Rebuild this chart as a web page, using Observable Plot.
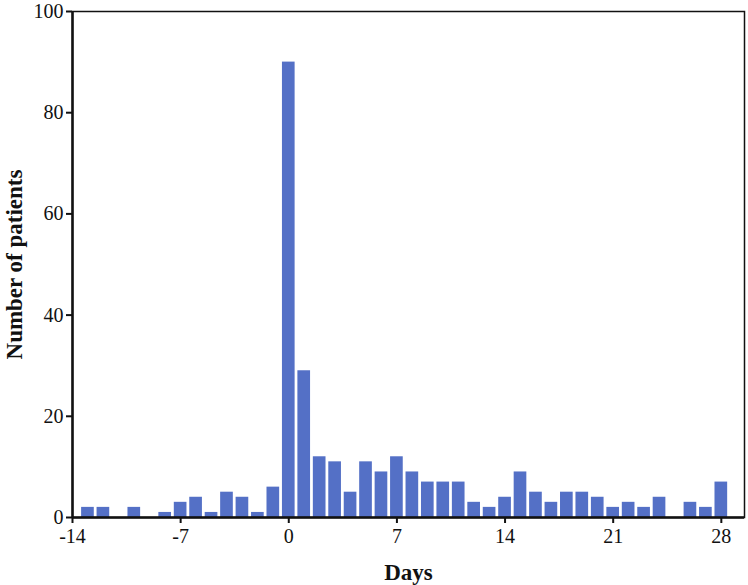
<!DOCTYPE html>
<html>
<head>
<meta charset="utf-8">
<script src="https://cdn.jsdelivr.net/npm/d3@7"></script>
<script src="https://cdn.jsdelivr.net/npm/@observablehq/plot@0.6"></script>
<style>
  html, body { margin: 0; padding: 0; background: #fff; }
  #chart svg { display: block; }
  g[aria-label="x-axis label"], g[aria-label="y-axis label"] { font-weight: bold; font-size: 23px; }
</style>
</head>
<body>
<div id="chart"></div>
<script>
const days = [-13, -12, -10, -8, -7, -6, -5, -4, -3, -2, -1, 0, 1, 2, 3, 4, 5, 6, 7, 8, 9, 10, 11, 12, 13, 14, 15, 16, 17, 18, 19, 20, 21, 22, 23, 24, 26, 27, 28];
const patients = [2, 2, 2, 1, 3, 4, 1, 5, 4, 1, 6, 90, 29, 12, 11, 5, 11, 9, 12, 9, 7, 7, 7, 3, 2, 4, 9, 5, 3, 5, 5, 4, 2, 3, 2, 4, 3, 2, 7];
const xTicks = [-14, -7, 0, 7, 14, 21, 28];
const yTicks = [0, 20, 40, 60, 80, 100];

const data = days.map((d, i) => ({day: d, count: patients[i]}));

const chart = Plot.plot({
  width: 748,
  height: 585,
  marginLeft: 72,
  marginRight: 4,
  marginTop: 11,
  marginBottom: 68,
  style: {fontFamily: "'Liberation Serif', serif", fontSize: "20px", color: "#111", background: "#fff"},
  x: {domain: [-14, 29.5]},
  y: {domain: [0, 100]},
  marks: [
    Plot.rectY(data, {x1: d => d.day - 0.41, x2: d => d.day + 0.41, y: "count", fill: "#5470c6"}),
    Plot.frame({stroke: "#111", strokeWidth: 1.5}),
    Plot.ruleX([-14], {stroke: "#111", strokeWidth: 2.5}),
    Plot.ruleY([0], {stroke: "#111", strokeWidth: 2.5}),
    Plot.axisX({ticks: xTicks, tickSize: 6, tickPadding: 5, tickFormat: d => String(d), strokeWidth: 2,
      label: "Days", labelArrow: "none", labelAnchor: "center", labelOffset: 62}),
    Plot.axisY({ticks: yTicks, tickSize: 6, tickPadding: 3, strokeWidth: 2,
      label: "Number of patients", labelArrow: "none", labelAnchor: "center", labelOffset: 67})
  ]
});
document.getElementById("chart").appendChild(chart);
</script>
</body>
</html>
